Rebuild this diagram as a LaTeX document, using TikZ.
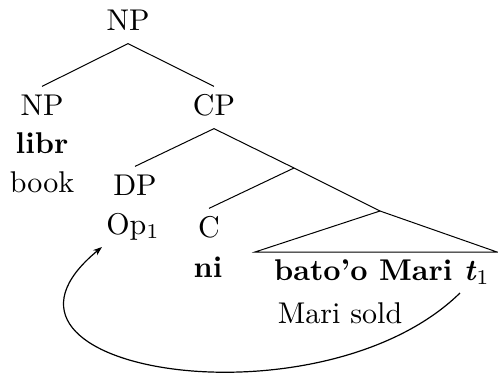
\documentclass[tikz,border=0pt]{standalone}
\usetikzlibrary{arrows.meta}
\begin{document}
\begin{tikzpicture}[x=0.33333pt,y=-0.33333pt,scale=3,transform shape,
  font=\fontsize{10}{12}\selectfont,
  lab/.style={text height=7.67pt,text depth=2.67pt,inner sep=1.67pt,anchor=base},
  word/.style={inner sep=0pt,anchor=base},
  branch/.style={line width=1pt},
  move/.style={line width=1.2pt,-{Stealth[length=9pt,width=6.5pt]}}]
\useasboundingbox (0,0) rectangle (498,377);
% labels
\node[lab] (np) at (128,30) {NP};
\node[lab] (npl) at (42,115) {NP};
\node[lab] (cp) at (214,115) {CP};
\node[word] (libr) at (42,153) {\textbf{libr}};
\node[word] (book) at (42,192) {book};
\node[lab] (dp) at (135,195) {DP};
\node[word] (op) at (133,234) {Op$_1$};
\node[lab] (c) at (209,237) {C};
\node[word] (ni) at (208,277) {\textbf{ni}};
\coordinate (cbar) at (294,168);
\coordinate (ip) at (380,211);
\node[lab] (s) at (382,280) {\textbf{bato'o Mari \textit{t}}$_1$};
\coordinate (tl) at (255,252);
\coordinate (tr) at (497,252);
\node[word] (gloss) at (340,323) {Mari sold};
% branches
\draw[branch] (np.south) -- (npl.north);
\draw[branch] (np.south) -- (cp.north);
\draw[branch] (cp.south) -- (dp.north);
\draw[branch] (cp.south) -- (cbar) -- (ip);
\draw[branch] (cbar) -- (c.north);
\draw[branch] (ip) -- (tl) -- (tr) -- cycle;
% movement arrow
\coordinate (tstart) at (460,293);
\coordinate (tend) at (102,247);
\draw[move] (tstart) .. controls (320,430) and (-50,372) .. (tend);
\end{tikzpicture}
\end{document}
